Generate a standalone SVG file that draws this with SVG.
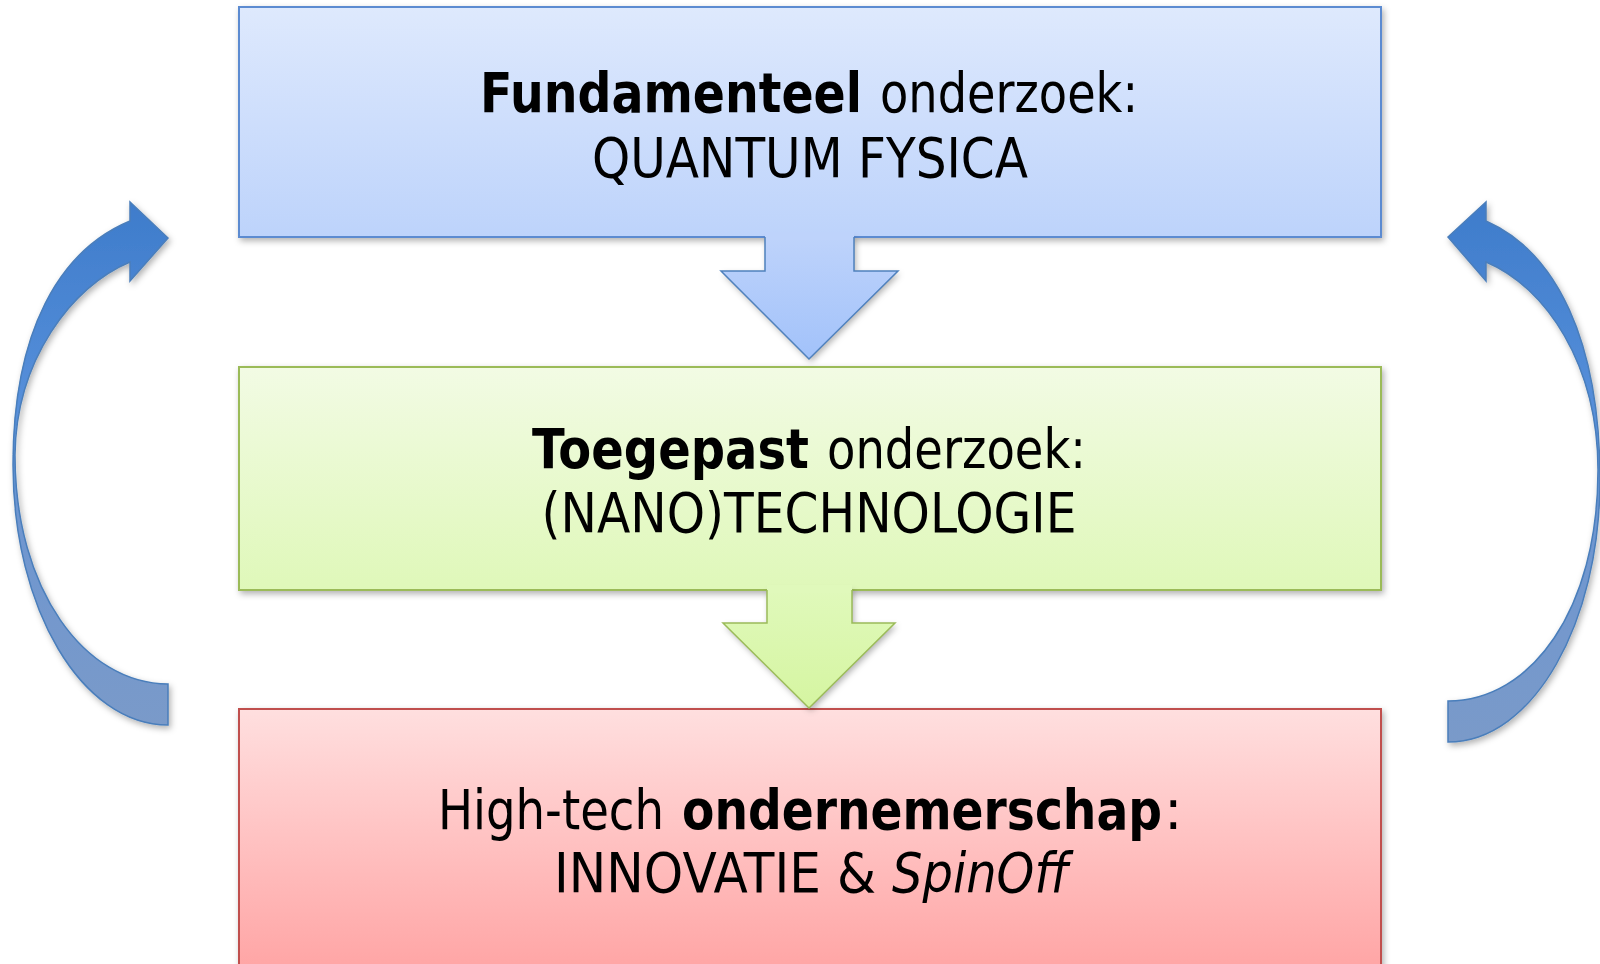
<svg xmlns="http://www.w3.org/2000/svg" width="1600" height="964" viewBox="0 0 1600 964">
<defs>
<linearGradient id="gBlue" x1="0" y1="0" x2="0" y2="1"><stop offset="0" stop-color="#DEE9FD"/><stop offset="1" stop-color="#BDD3FB"/></linearGradient>
<linearGradient id="gBlueArr" x1="0" y1="0" x2="0" y2="1"><stop offset="0" stop-color="#BED3FB"/><stop offset="1" stop-color="#A2C2FA"/></linearGradient>
<linearGradient id="gGreen" x1="0" y1="0" x2="0" y2="1"><stop offset="0" stop-color="#F2FBE4"/><stop offset="1" stop-color="#DFF8B9"/></linearGradient>
<linearGradient id="gGreenArr" x1="0" y1="0" x2="0" y2="1"><stop offset="0" stop-color="#E0F9BB"/><stop offset="1" stop-color="#D5F5A1"/></linearGradient>
<linearGradient id="gRed" x1="0" y1="709" x2="0" y2="964" gradientUnits="userSpaceOnUse"><stop offset="0" stop-color="#FFDFDF"/><stop offset="1" stop-color="#FFA6A6"/></linearGradient>
<linearGradient id="gCurve" x1="0" y1="0" x2="0" y2="1"><stop offset="0" stop-color="#3E7CCB"/><stop offset="0.45" stop-color="#5A92DC"/><stop offset="0.6" stop-color="#6E96D0"/><stop offset="1" stop-color="#7A9AC9"/></linearGradient>
<filter id="sh" x="-10%" y="-10%" width="130%" height="130%"><feDropShadow dx="2" dy="3" stdDeviation="3" flood-color="#000" flood-opacity="0.3"/></filter>
</defs>
<style>
.t{font-family:"DejaVu Sans","Liberation Sans",sans-serif;font-size:55px;fill:#000}
.c{text-anchor:middle}
.b{font-weight:bold}
.i{font-style:italic}
</style>
<rect width="1600" height="964" fill="#fff"/>
<g id="connectors">
<g id="curve-left" filter="url(#sh)">
<path d="M168,684 L168,725 C82,725 13,609 13,465 C13,330 60,250 130,221 L130,202 L168,238 L130,281 L130,262 C72,286 16,360 15,455 C15,590 85,684 168,684 Z" fill="url(#gCurve)" stroke="#4A7EBB" stroke-width="1.5"/>
</g>
<g id="curve-right" filter="url(#sh)">
<path d="M1448,701 L1448,742 C1534,742 1600,622 1600,480 C1600,340 1556,252 1486,221 L1486,202 L1448,237 L1486,281 L1486,262 C1546,287 1598,365 1598,470 C1598,610 1531,701 1448,701 Z" fill="url(#gCurve)" stroke="#4A7EBB" stroke-width="1.5"/>
</g>
</g>
<g id="node-fundamenteel">
<rect x="239" y="7" width="1142" height="230" fill="url(#gBlue)" stroke="#5B8BD1" stroke-width="2" filter="url(#sh)"/>
<text class="t b" x="480" y="112" textLength="382" lengthAdjust="spacingAndGlyphs">Fundamenteel</text>
<text class="t" x="880" y="112" textLength="258" lengthAdjust="spacingAndGlyphs">onderzoek:</text>
<text class="t c" x="810" y="177" textLength="436" lengthAdjust="spacingAndGlyphs">QUANTUM FYSICA</text>
</g>
<g id="node-toegepast">
<rect x="239" y="367" width="1142" height="223" fill="url(#gGreen)" stroke="#9BBB59" stroke-width="2" filter="url(#sh)"/>
<text class="t b" x="532" y="468" textLength="277" lengthAdjust="spacingAndGlyphs">Toegepast</text>
<text class="t" x="827" y="468" textLength="259" lengthAdjust="spacingAndGlyphs">onderzoek:</text>
<text class="t c" x="809" y="532" textLength="535" lengthAdjust="spacingAndGlyphs">(NANO)TECHNOLOGIE</text>
</g>
<g id="node-ondernemerschap">
<rect x="239" y="709" width="1142" height="300" fill="url(#gRed)" stroke="#C0504D" stroke-width="2" filter="url(#sh)"/>
<text class="t" x="438" y="829" textLength="226" lengthAdjust="spacingAndGlyphs">High-tech</text>
<text class="t b" x="682" y="829" textLength="480" lengthAdjust="spacingAndGlyphs">ondernemerschap</text>
<text class="t" x="1164" y="829">:</text>
<text class="t" x="554" y="892" textLength="322" lengthAdjust="spacingAndGlyphs">INNOVATIE &amp;</text>
<text class="t i" x="892" y="892" textLength="177" lengthAdjust="spacingAndGlyphs">SpinOff</text>
</g>
<g id="arrow-down-1">
<path d="M765,236 L854,236 L854,271 L898,271 L809,359 L721,271 L765,271 Z" fill="url(#gBlueArr)" filter="url(#sh)"/>
<path d="M765,232 L854,232 L854,240 L765,240 Z" fill="#BED3FB"/>
<path d="M854,237 L854,271 L898,271 L809,359 L721,271 L765,271 L765,237" fill="none" stroke="#4F81BD" stroke-width="1.5"/>
</g>
<g id="arrow-down-2">
<path d="M767,588 L852,588 L852,623 L895,623 L809,708 L723,623 L767,623 Z" fill="url(#gGreenArr)" filter="url(#sh)"/>
<path d="M767,585 L852,585 L852,593 L767,593 Z" fill="#E0F9BB"/>
<path d="M852,590 L852,623 L895,623 L809,708 L723,623 L767,623 L767,590" fill="none" stroke="#9BBB59" stroke-width="1.5"/>
</g>
</svg>
